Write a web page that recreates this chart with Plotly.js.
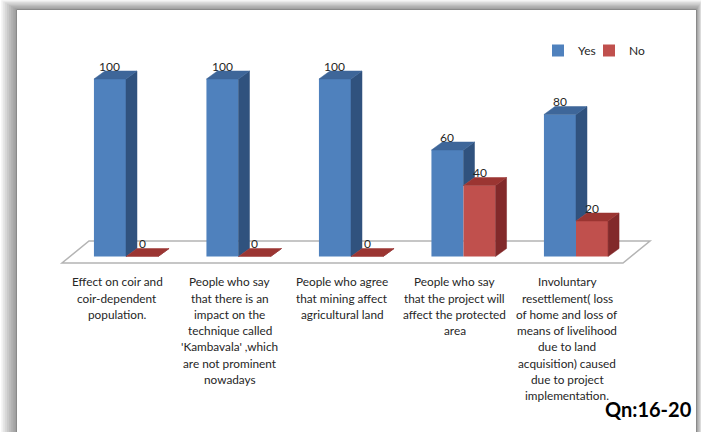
<!DOCTYPE html>
<html>
<head>
<meta charset="utf-8">
<script src="https://cdn.plot.ly/plotly-3.0.1.min.js"></script>
<style>html,body{margin:0;padding:0;background:#fff;overflow:hidden;}#chart{width:701px;height:432px;}</style>
</head>
<body>
<div id="chart"></div>
<script>
// ---- data ----
const categories = [
  "Effect on coir and<br>coir-dependent<br>population.",
  "People who say<br>that there is an<br>impact on the<br>technique called<br>'Kambavala' ,which<br>are not prominent<br>nowadays",
  "People who agree<br>that mining affect<br>agricultural land",
  "People who say<br>that the project will<br>affect the protected<br>area",
  "Involuntary<br>resettlement( loss<br>of home and loss of<br>means of livelihood<br>due to land<br>acquisition) caused<br>due to project<br>implementation."
];
const yesValues = [100, 100, 100, 60, 80];
const noValues = [0, 0, 0, 40, 20];
const seriesNames = ["Yes", "No"];
const cornerNote = "Qn:16-20";

// ---- styling / layout geometry ----
const W = 701, H = 432;
const X_LO = -1.12, X_HI = 5.1111, Y_LO = -98.873, Y_HI = 144.507;
const pxX = W / (X_HI - X_LO), pxY = H / (Y_HI - Y_LO);
const DX = 11 / pxX, DY = 8 / pxY;      // 3-D depth offset
const BARGAP = 0.43, BW = (1 - BARGAP) / 2;
const FONT = "Lato, 'Open Sans', sans-serif";
const TXT = "#262626";
const colors = {
  yes: {front: "#4f81bd", top: "#3e6699", side: "#30527e"},
  no:  {front: "#c0504d", top: "#9b3532", side: "#82292a"}
};
const idx = categories.map((_, i) => i);

function faces(values, left, cut) {
  const top = {x: [], y: []}, side = {x: [], y: []};
  values.forEach((v, i) => {
    const x0 = left ? i - BW : i, x1 = x0 + BW;
    top.x.push(x0, x1, x1 + DX, x0 + DX, x0, null);
    top.y.push(v, v, v + DY, v + DY, v, null);
    const b = cut ? Math.min(cut[i], v) : 0;
    side.x.push(x1, x1, x1 + DX, x1 + DX, x1, null);
    side.y.push(b, v, v + DY, b + DY, b, null);
  });
  return {top, side};
}
function faceTrace(f, color, group) {
  return {type: "scatter", mode: "lines", x: f.x, y: f.y, fill: "toself",
    fillcolor: color, line: {color: color, width: 0.5}, hoverinfo: "skip",
    showlegend: false, legendgroup: group};
}
const yF = faces(yesValues, true, noValues);
const nF = faces(noValues, false, null);

const traces = [
  {type: "bar", name: seriesNames[0], x: idx, y: yesValues, legendgroup: "yes", legend: "legend",
   marker: {color: colors.yes.front, line: {width: 0}}},
  {type: "bar", name: seriesNames[1], x: idx, y: noValues, legendgroup: "no", legend: "legend2",
   marker: {color: colors.no.front, line: {width: 0}}},
  faceTrace(yF.side, colors.yes.side, "yes"),
  faceTrace(yF.top, colors.yes.top, "yes"),
  faceTrace(nF.side, colors.no.side, "no"),
  faceTrace(nF.top, colors.no.top, "no")
];

const px = x => x / W, py = y => 1 - y / H;
const shapes = [];
// drop shadow of chart frame
for (let k = 8; k >= 1; k--) {
  shapes.push({type: "rect", xref: "paper", yref: "paper", layer: "below",
    x0: px(16.5 - k * 1.9), x1: px(696.5 + k * 0.7), y0: py(445), y1: py(9.5 - k * 1.15),
    fillcolor: "rgba(0,0,0,0.055)", line: {width: 0}});
}
shapes.push({type: "rect", xref: "paper", yref: "paper", layer: "below",
  x0: px(16.5), x1: px(696.5), y0: py(445), y1: py(9.5),
  fillcolor: "#ffffff", line: {color: "#8a8a8a", width: 1}});
// floor of the 3-D plot
shapes.push({type: "path", xref: "paper", yref: "paper", layer: "below",
  path: `M${px(62)},${py(263)} L${px(623)},${py(263)} L${px(650)},${py(241)} L${px(89)},${py(241)} Z`,
  fillcolor: "#ffffff", line: {color: "#b4b4b4", width: 1.5}});

const annotations = [];
yesValues.forEach((v, i) => annotations.push({xref: "x", yref: "y", x: i - BW / 2, y: v,
  yshift: 13, text: String(v), showarrow: false, yanchor: "middle",
  font: {family: FONT, size: 12, color: TXT}}));
noValues.forEach((v, i) => annotations.push({xref: "x", yref: "y", x: i + BW / 2, y: v,
  yshift: 13, text: String(v), showarrow: false, yanchor: "middle",
  font: {family: FONT, size: 12, color: TXT}}));
categories.forEach((c, i) => {
  c.split("<br>").forEach((line, k) => annotations.push({xref: "x", yref: "paper",
    x: i, xshift: -9, y: py(281.7 + 16.3 * k), text: line, showarrow: false,
    yanchor: "middle", xanchor: "center", font: {family: FONT, size: 11.8, color: TXT}}));
});
annotations.push({xref: "paper", yref: "paper", x: px(694), y: py(409), xanchor: "right",
  yanchor: "middle", text: "<b>" + cornerNote + "</b>", showarrow: false,
  font: {family: FONT, size: 20, color: "#000"}});

const legendBase = {orientation: "h", y: py(36), xanchor: "left", yanchor: "top",
  bgcolor: "rgba(0,0,0,0)", font: {family: FONT, size: 12, color: TXT}};
const layout = {
  width: W, height: H, autosize: false,
  margin: {l: 0, r: 0, t: 0, b: 0, pad: 0},
  paper_bgcolor: "#ffffff", plot_bgcolor: "rgba(0,0,0,0)",
  barmode: "group", bargap: BARGAP, bargroupgap: 0,
  xaxis: {range: [X_LO, X_HI], visible: false, fixedrange: true},
  yaxis: {range: [Y_LO, Y_HI], visible: false, fixedrange: true},
  showlegend: true,
  legend: Object.assign({}, legendBase, {x: px(538)}),
  legend2: Object.assign({}, legendBase, {x: px(589)}),
  shapes, annotations
};
Plotly.newPlot("chart", traces, layout, {displayModeBar: false, staticPlot: true});
</script>
</body>
</html>
